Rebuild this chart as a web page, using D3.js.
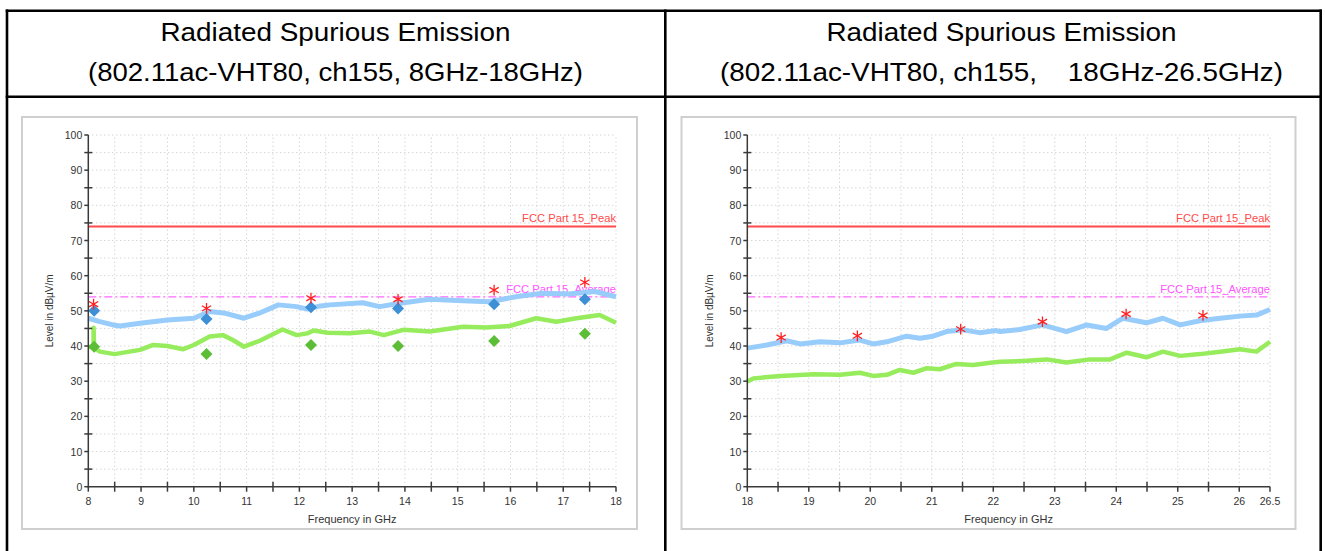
<!DOCTYPE html>
<html>
<head>
<meta charset="utf-8">
<script src="https://cdn.jsdelivr.net/npm/d3@7"></script>
<style>
  body { margin: 0; background: #fff; }
  svg { display: block; }
</style>
</head>
<body>
<svg id="page" width="1325" height="551"></svg>
<script>
// ---- data ----
var titleLine1 = "Radiated Spurious Emission";
var leftSubtitle = "(802.11ac-VHT80, ch155, 8GHz-18GHz)";
var rightSubtitle = "(802.11ac-VHT80, ch155,    18GHz-26.5GHz)";

var peakLimit = 74;
var avgLimit = 54;
var yTicks = [0, 10, 20, 30, 40, 50, 60, 70, 80, 90, 100];

var leftXTicks = [8, 9, 10, 11, 12, 13, 14, 15, 16, 17, 18];
var rightXTicks = [18, 19, 20, 21, 22, 23, 24, 25, 26, 26.5];

// peak trace (blue) and average trace (green), 8-18 GHz
var leftBlue = [
    [8.0, 47.9], [8.2, 47.0], [8.47, 46.0], [8.6, 45.7], [8.98, 46.5], [9.5, 47.4],
    [10.0, 47.9], [10.3, 49.8], [10.6, 49.3], [10.95, 47.9], [11.25, 49.4],
    [11.6, 51.7], [11.95, 51.2], [12.15, 50.5], [12.4, 51.4], [12.58, 51.7],
    [13.2, 52.3], [13.52, 51.2], [13.87, 52.1], [14.47, 53.3], [15.1, 52.9],
    [15.6, 52.6], [16.1, 54.0], [16.6, 55.0], [17.1, 54.8], [17.6, 55.5], [18.0, 54.0]
];
var leftGreen = [
    [8.0, 39.8], [8.1, 39.6], [8.1, 45.2], [8.11, 39.4], [8.22, 38.4], [8.5, 37.7],
    [8.78, 38.4], [8.98, 38.9], [9.23, 40.3], [9.5, 40.0], [9.8, 39.1], [10.0, 40.3],
    [10.3, 42.7], [10.55, 43.1], [10.74, 41.7], [10.95, 39.8], [11.25, 41.5],
    [11.68, 44.7], [11.95, 43.1], [12.15, 43.6], [12.27, 44.4], [12.53, 43.8],
    [12.96, 43.6], [13.34, 44.1], [13.6, 43.1], [13.97, 44.6], [14.47, 44.1],
    [15.1, 45.5], [15.54, 45.3], [15.98, 45.7], [16.49, 47.9], [16.87, 46.9],
    [17.25, 47.9], [17.69, 48.8], [18.0, 46.6]
];
var leftStars = [[8.1, 51.9], [10.24, 50.7], [12.22, 53.6], [13.87, 53.3], [15.69, 55.9], [17.41, 58.1]];
var leftBlueDiamonds = [[8.11, 50.0], [10.24, 47.7], [12.22, 51.0], [13.87, 50.7], [15.69, 51.9], [17.41, 53.3]];
var leftGreenDiamonds = [[8.11, 39.8], [10.24, 37.7], [12.22, 40.3], [13.87, 40.0], [15.69, 41.4], [17.41, 43.5]];

// 18-26.5 GHz
var rightBlue = [
    [18.0, 39.4], [18.32, 40.3], [18.64, 41.5], [18.86, 40.6], [19.18, 41.2],
    [19.51, 40.9], [19.83, 41.7], [20.05, 40.6], [20.27, 41.2], [20.59, 42.8],
    [20.81, 42.2], [21.02, 42.8], [21.24, 44.1], [21.51, 44.6], [21.78, 43.8],
    [22.05, 44.4], [22.11, 44.1], [22.43, 44.7], [22.8, 46.0], [23.19, 44.1],
    [23.52, 46.0], [23.84, 45.0], [24.11, 47.9], [24.49, 46.6], [24.76, 47.9],
    [25.04, 46.0], [25.36, 47.2], [25.69, 47.9], [26.01, 48.5], [26.28, 48.8], [26.5, 50.4]
];
var rightGreen = [
    [18.0, 29.9], [18.1, 30.8], [18.54, 31.5], [19.09, 32.0], [19.51, 31.8],
    [19.83, 32.4], [20.05, 31.5], [20.27, 31.8], [20.48, 33.2], [20.7, 32.4],
    [20.92, 33.7], [21.13, 33.4], [21.4, 34.9], [21.67, 34.6], [21.99, 35.3],
    [22.11, 35.5], [22.54, 35.8], [22.87, 36.2], [23.19, 35.3], [23.57, 36.2],
    [23.9, 36.2], [24.17, 38.1], [24.49, 36.8], [24.76, 38.4], [25.04, 37.2],
    [25.36, 37.7], [25.69, 38.4], [26.01, 39.1], [26.28, 38.4], [26.5, 41.2]
];
var rightStars = [[18.55, 42.4], [19.79, 42.9], [21.47, 44.8], [22.8, 46.9], [24.16, 49.1], [25.41, 48.7]];

// ---- page frame ----
var svg = d3.select("#page");

var table = svg.append("g").attr("stroke", "#000").attr("stroke-width", 2.6);
table.append("line").attr("x1", 5.7).attr("x2", 1322).attr("y1", 10.8).attr("y2", 10.8);
table.append("line").attr("x1", 5.7).attr("x2", 1322).attr("y1", 96.8).attr("y2", 96.8);
[7, 665.3, 1320.7].forEach(function (x) {
    table.append("line").attr("x1", x).attr("x2", x).attr("y1", 9.5).attr("y2", 551);
});

// title widths follow the reference (it is drawn a little condensed)
function addTitle(cx, sub, w1, w2) {
    var t = svg.append("g")
        .attr("font-family", "Arial, 'Liberation Sans', sans-serif")
        .attr("font-size", 25)
        .attr("fill", "#000")
        .attr("text-anchor", "middle");
    t.append("text").attr("x", cx).attr("y", 41)
        .attr("textLength", w1).attr("lengthAdjust", "spacingAndGlyphs")
        .text(titleLine1);
    t.append("text").attr("x", cx).attr("y", 81)
        .attr("xml:space", "preserve")
        .style("white-space", "pre")
        .attr("textLength", w2).attr("lengthAdjust", "spacingAndGlyphs")
        .text(sub);
}
addTitle(335.5, leftSubtitle, 350, 495);
addTitle(1001.5, rightSubtitle, 350, 563);

// ---- one measurement chart ----
function drawChart(opt) {
    var g = svg.append("g");

    g.append("rect")
        .attr("x", opt.box[0]).attr("y", opt.box[1])
        .attr("width", opt.box[2]).attr("height", opt.box[3])
        .attr("fill", "#fff")
        .attr("stroke", "#cfcfcf")
        .attr("stroke-width", 2);

    var x = d3.scaleLinear().domain(opt.xDomain).range([opt.plot[0], opt.plot[1]]);
    var y = d3.scaleLinear().domain([0, 100]).range([opt.plot[3], opt.plot[2]]);

    // dotted grid every 0.5 GHz and every 5 dB
    var xGrid = d3.range(opt.xDomain[0] + 0.5, opt.xDomain[1] + 0.01, 0.5);
    var yGrid = d3.range(5, 100.01, 5);
    g.append("g").selectAll("line").data(xGrid).enter().append("line")
        .attr("x1", d => x(d)).attr("x2", d => x(d))
        .attr("y1", y(0)).attr("y2", y(100))
        .attr("stroke", "#c4c4c4").attr("stroke-width", 1)
        .attr("stroke-dasharray", "1,3");
    g.append("g").selectAll("line").data(yGrid).enter().append("line")
        .attr("x1", x(opt.xDomain[0])).attr("x2", x(opt.xDomain[1]))
        .attr("y1", d => y(d)).attr("y2", d => y(d))
        .attr("stroke", "#c4c4c4").attr("stroke-width", 1)
        .attr("stroke-dasharray", "1,3");

    // limit lines
    var lim = g.append("g").attr("font-family", "Arial, 'Liberation Sans', sans-serif")
        .attr("font-size", 11.2).attr("text-anchor", "end");
    lim.append("line")
        .attr("x1", x(opt.xDomain[0])).attr("x2", x(opt.xDomain[1]))
        .attr("y1", y(peakLimit)).attr("y2", y(peakLimit))
        .attr("stroke", "#ff4a4a").attr("stroke-width", 2);
    lim.append("text")
        .attr("x", x(opt.xDomain[1])).attr("y", y(peakLimit) - 4)
        .attr("fill", "#ff4a4a").text("FCC Part 15_Peak");
    lim.append("line")
        .attr("x1", x(opt.xDomain[0])).attr("x2", x(opt.xDomain[1]))
        .attr("y1", y(avgLimit)).attr("y2", y(avgLimit))
        .attr("stroke", "#ff66ff").attr("stroke-width", 1.3)
        .attr("stroke-dasharray", "8,3,2,3");
    lim.append("text")
        .attr("x", x(opt.xDomain[1])).attr("y", y(avgLimit) - 4)
        .attr("fill", "#ff55ff").text("FCC Part 15_Average");

    // traces
    var line = d3.line().x(d => x(d[0])).y(d => y(d[1]));
    g.append("path").datum(opt.green).attr("d", line)
        .attr("fill", "none").attr("stroke", "#96ec5c")
        .attr("stroke-width", 4.5).attr("stroke-linejoin", "round");
    g.append("path").datum(opt.blue).attr("d", line)
        .attr("fill", "none").attr("stroke", "#98ccfb")
        .attr("stroke-width", 5).attr("stroke-linejoin", "round");

    // markers
    var diamond = d3.symbol().type(d3.symbolSquare).size(72);
    [[opt.greenDiamonds, "#5cbd36"], [opt.blueDiamonds, "#3d8fd6"]].forEach(function (s) {
        g.append("g").selectAll("path").data(s[0] || []).enter().append("path")
            .attr("d", diamond)
            .attr("transform", d => "translate(" + x(d[0]) + "," + y(d[1]) + ") rotate(45)")
            .attr("fill", s[1]);
    });
    var star = d3.symbol().type(d3.symbolAsterisk).size(80);
    g.append("g").selectAll("path").data(opt.stars).enter().append("path")
        .attr("d", star)
        .attr("transform", d => "translate(" + x(d[0]) + "," + y(d[1]) + ")")
        .attr("fill", "none").attr("stroke", "#ff2020").attr("stroke-width", 1.3);

    // axes
    var ax = g.append("g").attr("stroke", "#3a3a3a").attr("stroke-width", 1.5);
    ax.append("line").attr("x1", x(opt.xDomain[0])).attr("x2", x(opt.xDomain[0]))
        .attr("y1", y(0) + 1).attr("y2", y(100));
    ax.append("line").attr("x1", x(opt.xDomain[0])).attr("x2", x(opt.xDomain[1]))
        .attr("y1", y(0)).attr("y2", y(0));

    // y ticks: labelled tens point outwards, fives cross the axis
    var x0 = x(opt.xDomain[0]);
    ax.selectAll("line.ym").data(yTicks).enter().append("line")
        .attr("x1", x0 - 4).attr("x2", x0).attr("y1", d => y(d)).attr("y2", d => y(d));
    ax.selectAll("line.yn").data(d3.range(5, 100, 10)).enter().append("line")
        .attr("x1", x0 - 4).attr("x2", x0 + 4).attr("y1", d => y(d)).attr("y2", d => y(d));
    var y0 = y(0);
    ax.selectAll("line.xm").data(opt.xTicks).enter().append("line")
        .attr("x1", d => x(d)).attr("x2", d => x(d)).attr("y1", y0).attr("y2", y0 + 5);
    var halves = d3.range(opt.xDomain[0] + 0.5, opt.xDomain[1], 1)
        .filter(d => opt.xTicks.indexOf(d) < 0);
    ax.selectAll("line.xn").data(halves).enter().append("line")
        .attr("x1", d => x(d)).attr("x2", d => x(d)).attr("y1", y0 - 5).attr("y2", y0 + 5);

    var lab = g.append("g").attr("font-family", "Arial, 'Liberation Sans', sans-serif")
        .attr("font-size", 10.5).attr("fill", "#333");
    lab.selectAll("text.y").data(yTicks).enter().append("text")
        .attr("x", x0 - 6).attr("y", d => y(d) + 4)
        .attr("text-anchor", "end").text(d => d);
    lab.selectAll("text.x").data(opt.xTicks).enter().append("text")
        .attr("x", d => x(d)).attr("y", y0 + 18)
        .attr("text-anchor", "middle").text(d => d);
    lab.append("text")
        .attr("x", (opt.plot[0] + opt.plot[1]) / 2).attr("y", y0 + 36)
        .attr("text-anchor", "middle").attr("font-size", 11).text("Frequency in GHz");
    lab.append("text")
        .attr("transform", "translate(" + (opt.box[0] + 31) + "," + ((opt.plot[2] + opt.plot[3]) / 2) + ") rotate(-90)")
        .attr("text-anchor", "middle").attr("font-size", 10).text("Level in dB\u00B5V/m");
}

drawChart({
    box: [22, 117, 615, 412],
    plot: [88.3, 616, 135, 486.7],
    xDomain: [8, 18],
    xTicks: leftXTicks,
    blue: leftBlue,
    green: leftGreen,
    stars: leftStars,
    blueDiamonds: leftBlueDiamonds,
    greenDiamonds: leftGreenDiamonds
});

drawChart({
    box: [681.5, 117, 614, 412],
    plot: [747.3, 1270, 135, 486.7],
    xDomain: [18, 26.5],
    xTicks: rightXTicks,
    blue: rightBlue,
    green: rightGreen,
    stars: rightStars
});
</script>
</body>
</html>
